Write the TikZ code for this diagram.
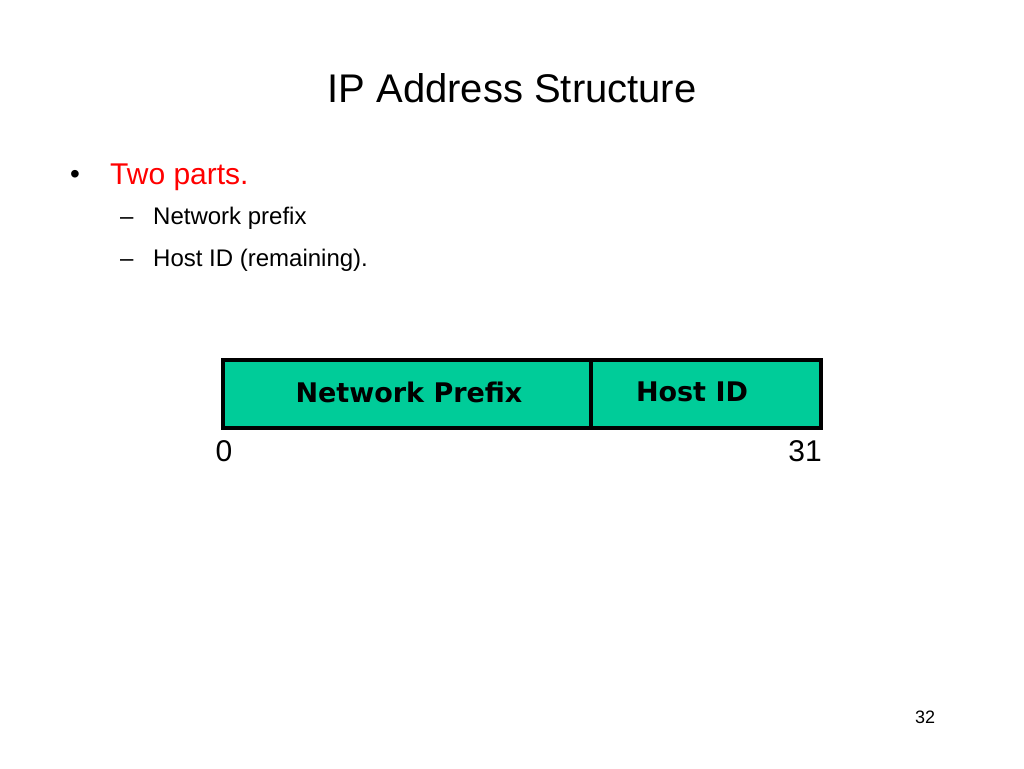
\documentclass[tikz,border=0pt]{standalone}
\usepackage{fontspec}
\setmainfont{Liberation Sans}
\newfontfamily\boxfont{DejaVu Sans}
\definecolor{boxgreen}{HTML}{00CC99}
\definecolor{bulletred}{HTML}{FF0000}
\begin{document}
\begin{tikzpicture}[x=1pt,y=-1pt,
  txt/.style={inner sep=0pt,anchor=base west},
  field/.style={draw=black,line width=3.5pt,fill=boxgreen,minimum height=68pt,inner sep=0pt,anchor=north west},
  flab/.style={font=\boxfont\bfseries\fontsize{27}{32}\selectfont,inner sep=0pt}]
\useasboundingbox (0,0) rectangle (1024,768);
\node[inner sep=0pt,font=\fontsize{40}{48}\selectfont] (title) at (512,88) {IP Address Structure};
\node[txt,font=\fontsize{28}{34}\selectfont] (bul) at (70,183) {•};
\node[txt,text=bulletred,font=\fontsize{30}{36}\selectfont] (two) at (110,184) {Two parts.};
\node[txt,font=\fontsize{24}{29}\selectfont] (d1) at (120,224) {–};
\node[txt,font=\fontsize{24}{29}\selectfont] (np) at (153,224) {Network prefix};
\node[txt,font=\fontsize{24}{29}\selectfont] (d2) at (120,266) {–};
\node[txt,font=\fontsize{24}{29}\selectfont] (hid) at (153,266) {Host ID (remaining).};
\node[field,minimum width=368pt] (pre) at (221,358) {};
\node[field,minimum width=230pt] (host) at (589,358) {};
\node[flab] (prel) at (409,392) {Network Prefix};
\node[flab] (hostl) at (692,392) {Host ID};
\node[inner sep=0pt,font=\fontsize{30}{36}\selectfont] (zero) at (224,451) {0};
\node[inner sep=0pt,font=\fontsize{30}{36}\selectfont] (tone) at (805,451) {31};
\node[inner sep=0pt,font=\fontsize{18}{22}\selectfont] (pg) at (925,717) {32};
\end{tikzpicture}
\end{document}
